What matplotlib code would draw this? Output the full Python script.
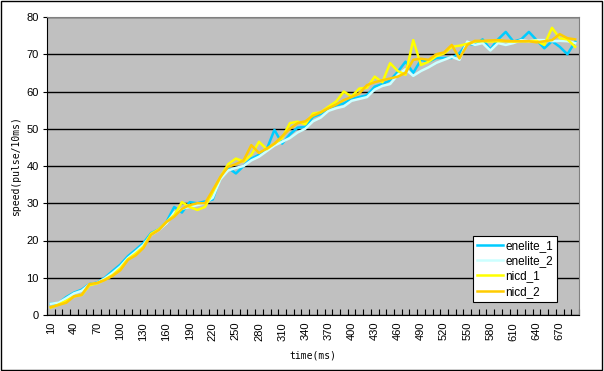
import numpy as np
import matplotlib.pyplot as plt
from matplotlib.patches import Rectangle

# time axis (ms)
times = list(range(10, 700, 10))

enelite_1 = [3.0, 3.2, 4.8, 6.0, 6.8, 8.3, 8.7, 10.0, 11.8, 13.5,
             15.8, 17.5, 19.3, 22.0, 23.0, 25.0, 29.0, 27.5, 30.3, 30.0,
             30.5, 31.0, 37.0, 39.5, 38.0, 40.0, 42.0, 43.0, 44.5, 49.7,
             46.0, 48.5, 50.3, 50.5, 53.2, 54.0, 55.5, 56.3, 56.8, 58.0,
             58.5, 59.0, 61.3, 62.0, 63.0, 65.3, 68.0, 65.0, 68.5, 68.0,
             69.0, 69.0, 69.0, 70.3, 72.9, 72.5, 74.0, 71.3, 74.0, 76.0,
             73.4, 74.0, 76.0, 73.8, 71.6, 73.5, 72.0, 70.0, 73.4]
enelite_2 = [3.0, 3.3, 4.5, 5.8, 6.5, 8.2, 8.6, 9.8, 11.3, 13.0,
             15.3, 17.0, 18.8, 21.5, 22.8, 24.6, 27.5, 28.5, 29.0, 29.5,
             30.0, 31.5, 36.5, 38.8, 39.5, 40.0, 41.5, 42.5, 44.0, 45.5,
             46.5, 47.5, 49.0, 50.0, 52.0, 53.0, 54.8, 55.5, 56.0, 57.5,
             58.0, 58.5, 60.5, 61.5, 62.0, 64.5, 66.0, 64.2, 65.5, 66.5,
             67.7, 68.5, 69.3, 68.5, 73.4, 72.5, 73.0, 71.0, 73.0, 72.5,
             73.0, 73.8, 73.5, 73.8, 73.8, 73.5, 73.6, 73.5, 73.0]
nicd_1 = [2.0, 2.8, 3.8, 5.0, 5.4, 8.0, 8.5, 9.5, 10.7, 12.5,
          15.0, 16.5, 18.3, 21.8, 23.0, 25.0, 26.8, 30.3, 29.0, 28.2,
          29.0, 33.0, 37.0, 40.5, 42.0, 41.2, 43.0, 46.5, 44.5, 46.0,
          47.5, 51.5, 51.9, 51.2, 54.1, 54.4, 55.9, 57.3, 60.0, 58.6,
          60.8, 61.0, 64.0, 62.5, 67.6, 65.5, 64.5, 73.8, 67.1, 68.0,
          69.5, 70.2, 72.0, 72.3, 72.8, 73.4, 73.5, 73.4, 73.5, 73.5,
          73.4, 73.5, 73.5, 73.6, 72.5, 77.1, 74.3, 74.0, 72.0]
nicd_2 = [2.1, 2.7, 3.3, 5.0, 5.4, 8.3, 8.6, 9.4, 10.5, 12.0,
          14.8, 16.0, 18.0, 21.5, 22.8, 25.0, 26.4, 28.5, 29.5, 30.0,
          30.0, 33.5, 37.1, 39.8, 40.5, 41.5, 45.6, 43.5, 44.7, 46.0,
          48.0, 50.0, 51.5, 52.0, 53.5, 54.4, 55.5, 56.5, 57.7, 58.5,
          59.5, 61.7, 62.5, 63.0, 63.5, 64.0, 65.0, 68.5, 68.8, 68.5,
          70.0, 70.5, 72.5, 68.9, 72.5, 73.6, 73.6, 73.7, 73.8, 73.6,
          73.5, 73.5, 73.5, 73.2, 73.5, 73.8, 75.4, 74.3, 74.0]

series = [("enelite_1", enelite_1, "#00CCFF"),
          ("enelite_2", enelite_2, "#CCFFFF"),
          ("nicd_1", nicd_1, "#FFFF00"),
          ("nicd_2", nicd_2, "#FFCC00")]

fig = plt.figure(figsize=(6.04, 3.71), dpi=100)
fig.patches.append(Rectangle((0.002, 0.003), 0.995, 0.994, transform=fig.transFigure,
                             fill=False, edgecolor="black", linewidth=1.0))

ax = fig.add_axes([47 / 604, 1 - 315 / 371, 532 / 604, 298 / 371])
ax.set_facecolor("#C0C0C0")

x = np.arange(len(times))
for name, vals, color in series:
    ax.plot(x, vals, color=color, linewidth=1.8, label=name)

ax.set_xlim(-0.5, len(times) - 0.5)
ax.set_ylim(0, 80)
ax.set_yticks(range(0, 81, 10))
ax.yaxis.grid(True, color="black", linewidth=1.0)
ax.set_axisbelow(True)

ax.set_xticks(x[::3])
ax.set_xticklabels([str(t) for t in times[::3]], rotation=90, fontsize=8,
                   family="Liberation Sans")
ax.set_xticks(np.arange(-0.5, len(times), 1), minor=True)
ax.tick_params(axis="x", which="major", length=0, pad=5)
ax.tick_params(axis="x", which="minor", direction="in", length=4, width=0.8)
ax.tick_params(axis="y", direction="out", length=3, labelsize=8, pad=3)
for lbl in ax.get_yticklabels():
    lbl.set_family("Liberation Sans")

for side in ["top", "right"]:
    ax.spines[side].set_color("#808080")
for side in ["left", "bottom"]:
    ax.spines[side].set_color("black")

ax.set_xlabel("time(ms)", fontsize=7, family="DejaVu Sans Mono", labelpad=7)
ax.set_ylabel("speed(pulse/10ms)", fontsize=7, family="DejaVu Sans Mono", labelpad=4)

leg = ax.legend(loc="lower left", bbox_to_anchor=(0.80, 0.044),
                frameon=True, fancybox=False, edgecolor="black", framealpha=1,
                handlelength=2.2, handletextpad=0.2, borderpad=0.35,
                labelspacing=0.28, borderaxespad=0,
                prop={"family": "Liberation Sans", "size": 8.5})
leg.get_frame().set_linewidth(0.8)

fig.savefig("out.png", dpi=100)
